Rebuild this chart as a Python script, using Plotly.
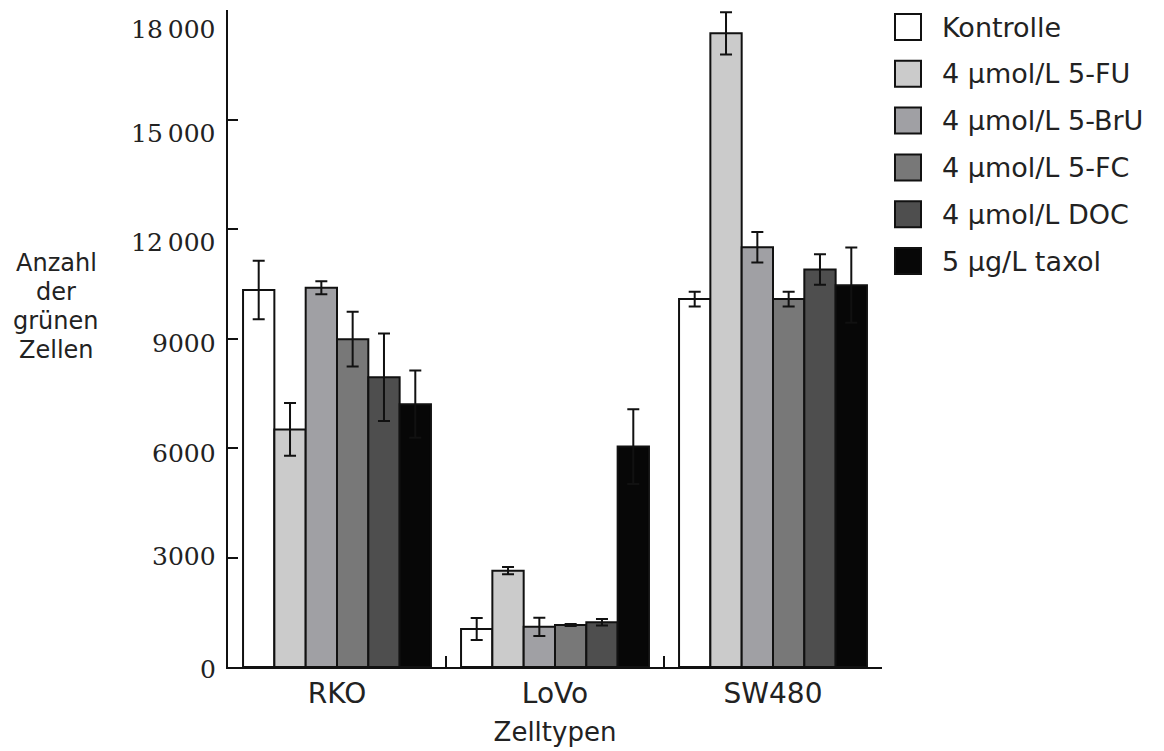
import plotly.graph_objects as go

categories = ["RKO", "LoVo", "SW480"]
series_names = ["Kontrolle", "4 µmol/L 5-FU", "4 µmol/L 5-BrU", "4 µmol/L 5-FC", "4 µmol/L DOC", "5 µg/L taxol"]
series_colors = ["#ffffff", "#cbcbcb", "#a0a0a4", "#787878", "#4e4e4e", "#070707"]

kontrolle = [10330, 1040, 10080]
fu = [6510, 2640, 17360]
bru = [10390, 1100, 11500]
fc = [8980, 1150, 10080]
doc = [7940, 1225, 10890]
taxol = [7200, 6040, 10460]

kontrolle_err = [800, 300, 200]
fu_err = [720, 100, 580]
bru_err = [180, 250, 420]
fc_err = [750, 30, 200]
doc_err = [1200, 90, 420]
taxol_err = [920, 1025, 1030]

values = [kontrolle, fu, bru, fc, doc, taxol]
errors = [kontrolle_err, fu_err, bru_err, fc_err, doc_err, taxol_err]

y_tickvals = [0, 3000, 6000, 9000, 12000, 15000, 18000]
y_ticktext = ["0", "3000", "6000", "9000", "12\u2009000", "15\u2009000", "18\u2009000"]
# vertical nudges of the y tick labels (pixels, styling only)
y_label_shift = [-2, 1, -5, -5, -13, -14, -19]

y_title_lines = ["Anzahl", "der", "grünen", "Zellen"]
x_title = "Zelltypen"

fig = go.Figure()
for name, color, vals, errs in zip(series_names, series_colors, values, errors):
    fig.add_trace(go.Bar(
        x=categories, y=vals, name=name,
        marker=dict(color=color, line=dict(color="#111111", width=2)),
        error_y=dict(type="data", array=errs, visible=True, color="#111111", thickness=2, width=6),
        showlegend=False,
    ))

sans = "DejaVu Sans, Verdana, sans-serif"
serif = "DejaVu Serif, serif"
W, H = 1156, 743
# plot area in page pixels: x 228..882, y 10..667
px0, px1, py0, py1 = 228, 882, 10, 667
pw, ph = px1 - px0, py1 - py0

def paper_x(x):
    return (x - px0) / pw

def paper_y(y):
    return (py1 - y) / ph

# y tick labels as text next to each tick
for val, txt, sh in zip(y_tickvals, y_ticktext, y_label_shift):
    fig.add_annotation(xref="paper", yref="y", x=0, y=val, text=txt, showarrow=False,
                       xanchor="right", yanchor="middle", xshift=-10, yshift=sh,
                       font=dict(family=serif, size=25, color="#222222"))

# legend with large swatches
row0, step, sq = 27, 46.8, 26
for i, (name, color) in enumerate(zip(series_names, series_colors)):
    cy = row0 + step * i
    fig.add_shape(type="rect", xref="paper", yref="paper",
                  x0=paper_x(895), x1=paper_x(895 + sq),
                  y0=paper_y(cy + sq / 2), y1=paper_y(cy - sq / 2),
                  fillcolor=color, line=dict(color="#111111", width=2))
    fig.add_annotation(xref="paper", yref="paper", x=paper_x(940), y=paper_y(cy),
                       text=name, showarrow=False, xanchor="left", yanchor="middle",
                       font=dict(family=sans, size=27, color="#222222"))

# y-axis title, horizontal, one line per row
for i, line in enumerate(y_title_lines):
    fig.add_annotation(xref="paper", yref="paper", x=paper_x(56), y=paper_y(263 + 29 * i),
                       text=line, showarrow=False, xanchor="center", yanchor="middle",
                       font=dict(family=sans, size=24, color="#222222"))

fig.update_layout(
    width=W, height=H,
    margin=dict(l=px0 - 8, r=W - (px1 - 8), t=py0 - 8, b=H - (py1 - 8)),
    paper_bgcolor="white", plot_bgcolor="white",
    barmode="group", bargap=0.138, bargroupgap=0,
    xaxis=dict(
        range=[-0.5, 2.5], showline=True, linecolor="#111111", linewidth=2,
        ticks="inside", tickson="boundaries", ticklen=11, tickwidth=2, tickcolor="#111111",
        tickfont=dict(family=sans, size=28, color="#222222"),
        title=dict(text=x_title, font=dict(family=sans, size=26, color="#222222"), standoff=14),
        showgrid=False, zeroline=False,
    ),
    yaxis=dict(
        range=[0, 18000], showline=True, linecolor="#111111", linewidth=2,
        ticks="inside", ticklen=10, tickwidth=2, tickcolor="#111111",
        tickvals=y_tickvals, showticklabels=False,
        showgrid=False, zeroline=False,
    ),
)

fig.write_html("out.html")
